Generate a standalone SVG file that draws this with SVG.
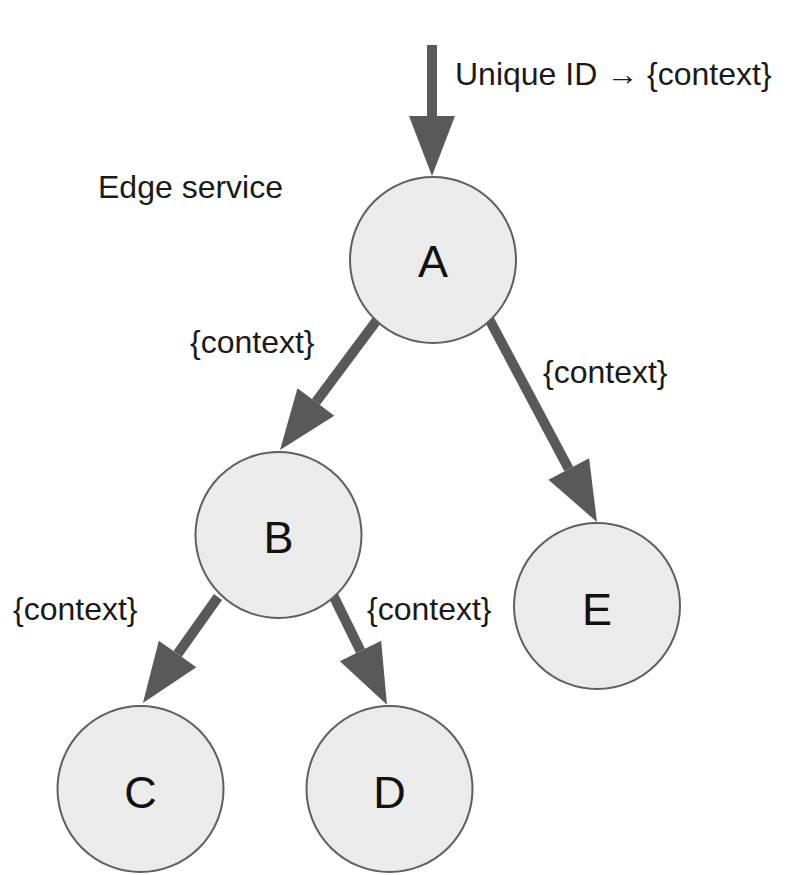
<svg xmlns="http://www.w3.org/2000/svg" width="787" height="875" viewBox="0 0 787 875">
<style>
.node circle{fill:#ebebeb;stroke:#5f5f5f;stroke-width:2}
.node text{font-family:"Liberation Sans",Arial,sans-serif;font-size:45px;fill:#111;text-anchor:middle}
.lbl{font-family:"Liberation Sans",Arial,sans-serif;font-size:32px;fill:#1a1a1a}
.conn line{stroke:#595959;stroke-width:10;fill:none;marker-end:url(#ah)}
</style>
<defs>
<marker id="ah" markerUnits="userSpaceOnUse" markerWidth="60" markerHeight="46" refX="0" refY="23" orient="auto" overflow="visible">
<path d="M0,0 L60,23 L0,46 Z" fill="#595959"/>
</marker>
</defs>
<rect width="787" height="875" fill="#ffffff"/>
<g id="connectors" class="conn">
<line x1="432" y1="45" x2="432" y2="116"/>
<line x1="377" y1="320" x2="315.9" y2="401.9"/>
<line x1="488" y1="317" x2="568.8" y2="469"/>
<line x1="218" y1="597" x2="177.6" y2="654"/>
<line x1="333" y1="595" x2="360.5" y2="651"/>
</g>
<g id="labels">
<text class="lbl" x="455" y="85">Unique ID → {context}</text>
<text class="lbl" x="98" y="198">Edge service</text>
<text class="lbl" x="190" y="353">{context}</text>
<text class="lbl" x="543" y="383">{context}</text>
<text class="lbl" x="13" y="620">{context}</text>
<text class="lbl" x="367" y="620">{context}</text>
</g>
<g id="node-A" class="node"><circle cx="433" cy="260" r="83"/><text x="433" y="277">A</text></g>
<g id="node-B" class="node"><circle cx="278.5" cy="535" r="83"/><text x="278.5" y="553">B</text></g>
<g id="node-C" class="node"><circle cx="140.5" cy="789" r="83"/><text x="140.5" y="808">C</text></g>
<g id="node-D" class="node"><circle cx="389.5" cy="789" r="83"/><text x="389.5" y="808">D</text></g>
<g id="node-E" class="node"><circle cx="597" cy="606" r="83"/><text x="597" y="625">E</text></g>
</svg>
